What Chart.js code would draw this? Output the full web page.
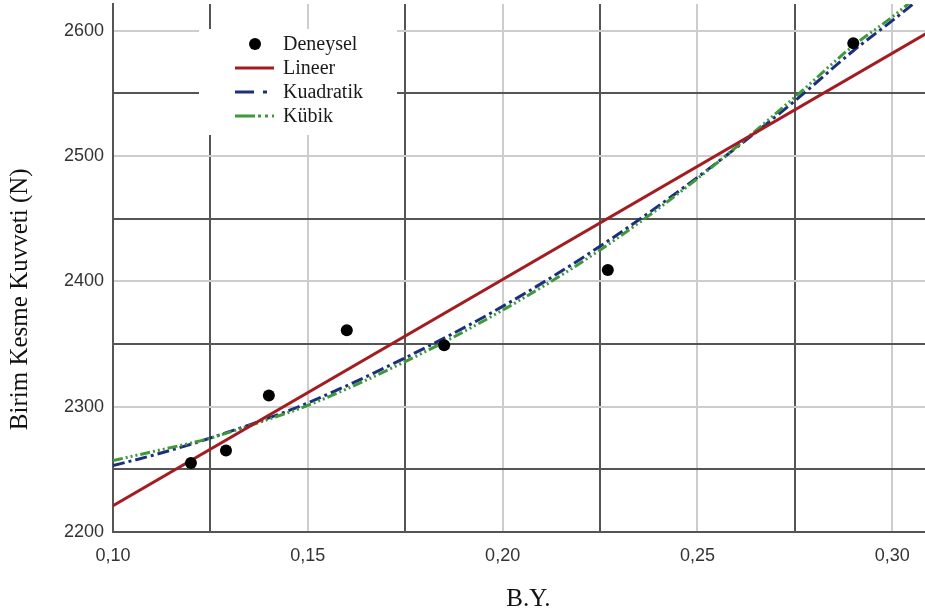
<!DOCTYPE html>
<html><head><meta charset="utf-8">
<script src="https://cdn.jsdelivr.net/npm/chart.js@4.4.1/dist/chart.umd.min.js"></script>
<style>html,body{margin:0;padding:0;background:#fff;}canvas{display:block;}</style>
</head><body>
<canvas id="c" width="925" height="615"></canvas>
<script>
// ---- data ----
const seriesNames = ['Deneysel', 'Lineer', 'Kuadratik', 'Kübik'];
const expX = [0.12, 0.129, 0.14, 0.16, 0.185, 0.227, 0.29];
const expY = [2255, 2265, 2309, 2361, 2349, 2409, 2590];
const linX = [0.10, 0.31];
const linY = [2221, 2600];
const fitX = [0.10, 0.11, 0.12, 0.125, 0.14, 0.15, 0.175, 0.20, 0.225, 0.25, 0.275, 0.29, 0.30, 0.31];
const quadY = [2253, 2261, 2270, 2275, 2291, 2303, 2339, 2380, 2428, 2483, 2544, 2584, 2608, 2633];
const cubY  = [2257, 2264, 2271, 2275, 2290, 2301, 2336, 2377, 2425, 2482, 2547, 2588, 2611, 2637];
const xTickLabels = ['0,10', '0,15', '0,20', '0,25', '0,30'];
const yTickLabels = ['2200', '2300', '2400', '2500', '2600'];
const xTitle = 'B.Y.';
const yTitle = 'Birim Kesme Kuvveti (N)';

const pts = (xs, ys) => xs.map((x, i) => ({x: x, y: ys[i]}));

const LIGHT = '#cdcdcd', DARK = '#555555';
const TICK_FONT = { family: '"Liberation Sans", Arial, sans-serif', size: 18 };
const TITLE_FONT = { family: '"Liberation Serif", "Times New Roman", serif', size: 25 };

const legendPlugin = {
  id: 'boxLegend',
  beforeDatasetsDraw(chart) {
    const ctx = chart.ctx;
    ctx.save();
    ctx.fillStyle = '#ffffff';
    ctx.fillRect(199, 29, 198, 106);
    const rows = [44, 68, 92, 116];
    const dashes = [null, [], [19, 9, 4, 200], [20, 3, 3, 4, 3, 4, 3, 200]];
    chart.data.datasets.forEach((ds, i) => {
      const y = rows[i];
      if (i === 0) {
        ctx.beginPath();
        ctx.fillStyle = '#000';
        ctx.arc(255, y, 6, 0, Math.PI * 2);
        ctx.fill();
      } else {
        ctx.beginPath();
        ctx.strokeStyle = ds.borderColor;
        ctx.lineWidth = 3;
        ctx.setLineDash(dashes[i]);
        ctx.moveTo(235, y);
        ctx.lineTo(274, y);
        ctx.stroke();
        ctx.setLineDash([]);
      }
      ctx.fillStyle = '#1a1a1a';
      ctx.font = '20px "Liberation Serif", "Times New Roman", serif';
      ctx.textBaseline = 'middle';
      ctx.textAlign = 'left';
      ctx.fillText(ds.label, 283, y + 1);
    });
    ctx.restore();
  }
};

new Chart(document.getElementById('c'), {
  type: 'scatter',
  data: {
    datasets: [
      { label: seriesNames[0], data: pts(expX, expY), showLine: false,
        pointRadius: 6, pointHoverRadius: 6, backgroundColor: '#000', borderColor: '#000', borderWidth: 0, order: 0 },
      { label: seriesNames[1], type: 'line', data: pts(linX, linY), borderColor: '#a31c22',
        borderWidth: 3, pointRadius: 0, fill: false, tension: 0, order: 1 },
      { label: seriesNames[2], type: 'line', data: pts(fitX, quadY), borderColor: '#1c2e7c',
        borderWidth: 3, borderDash: [12, 4, 3, 4], pointRadius: 0, fill: false, cubicInterpolationMode: 'monotone', order: 3 },
      { label: seriesNames[3], type: 'line', data: pts(fitX, cubY), borderColor: '#3d9a3a',
        borderWidth: 3, borderDash: [10, 3, 2, 3, 2, 3, 2, 3], pointRadius: 0, fill: false, cubicInterpolationMode: 'monotone', order: 2 }
    ]
  },
  options: {
    responsive: false,
    animation: false,
    devicePixelRatio: 1,
    layout: { autoPadding: false, padding: { top: 4, right: 0, left: 0, bottom: 0 } },
    plugins: { legend: { display: false }, tooltip: { enabled: false } },
    scales: {
      x: {
        type: 'linear', min: 0.10, max: 0.3084,
        afterFit: s => { s.height = 83; s.paddingLeft = 0; s.paddingRight = 0; },
        border: { display: true, color: DARK, width: 2 },
        grid: { drawTicks: false, lineWidth: 2,
          color: c => (c.tick && c.tick.label !== '' ? LIGHT : DARK) },
        ticks: { stepSize: 0.025, autoSkip: false, includeBounds: false, maxRotation: 0, padding: 13,
          color: '#333', font: TICK_FONT,
          callback: v => { const l = Number(v).toFixed(2).replace('.', ','); return xTickLabels.includes(l) ? l : ''; } },
        title: { display: true, text: '   ' + xTitle, color: '#111', padding: { top: 0, bottom: 1 }, font: TITLE_FONT }
      },
      y: {
        type: 'linear', min: 2200, max: 2621.3,
        afterFit: s => { s.width = 113; s.paddingTop = 0; s.paddingBottom = 0; },
        border: { display: true, color: DARK, width: 2 },
        grid: { drawTicks: false, lineWidth: 2,
          color: c => (c.tick && c.tick.label !== '' ? LIGHT : DARK) },
        ticks: { stepSize: 50, autoSkip: false, includeBounds: false, padding: 9,
          color: '#333', font: TICK_FONT,
          callback: v => { const l = String(Math.round(v)); return yTickLabels.includes(l) ? l : ''; } },
        title: { display: true, text: yTitle + '          ', color: '#111', padding: { top: 5, bottom: 0 }, font: TITLE_FONT }
      }
    }
  },
  plugins: [legendPlugin]
});
</script>
</body></html>
